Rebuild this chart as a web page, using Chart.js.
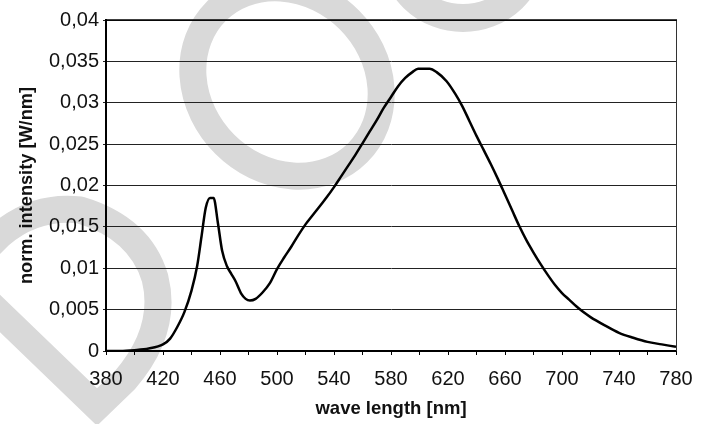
<!DOCTYPE html>
<html lang="en">
  <head>
    <meta charset="utf-8" />
    <title>Spectrum</title>
    <style>
      html, body { margin: 0; padding: 0; background: #fff; }
      #wrap { width: 712px; height: 424px; }
    </style>
  </head>
  <body>
    <div id="wrap">
      <canvas id="canvas" width="712" height="424"></canvas>
    </div>

    <script src="https://cdn.jsdelivr.net/npm/chart.js"></script>

    <script>
      // wavelength [nm] and normalised intensity [W/nm]
      const wavelengths = [
        380, 390, 400, 410, 420, 425, 430, 435, 440, 444, 447, 450, 453, 455.5,
        458.5, 461.5, 465, 468, 471, 475, 478, 481, 485, 490, 495, 500, 505, 510,
        515, 520, 525, 530, 535, 540, 545, 550, 555, 560, 565, 570, 575, 580, 585,
        590, 595, 599, 607, 612, 619, 625, 630, 635, 640, 645, 650, 655, 660, 665,
        670, 675, 680, 685, 690, 695, 700, 705, 710, 715, 720, 730, 740, 750, 760,
        770, 780,
      ];
      const intensity = [
        0, 0, 0.0001, 0.0003, 0.0008, 0.0015, 0.0029, 0.0047, 0.0073, 0.0103,
        0.0138, 0.0173, 0.0185, 0.0185, 0.0155, 0.0121, 0.0102, 0.0093, 0.0084,
        0.0069, 0.0063, 0.0061, 0.0063, 0.0071, 0.0082, 0.0099, 0.0113, 0.0126,
        0.014, 0.0153, 0.0164, 0.0175, 0.0186, 0.0198, 0.0211, 0.0224, 0.0237,
        0.0251, 0.0265, 0.0279, 0.0294, 0.0307, 0.032, 0.033, 0.0337, 0.0341,
        0.0341, 0.0337, 0.0326, 0.0311, 0.0296, 0.0278, 0.026, 0.0243, 0.0226,
        0.0208, 0.0189, 0.017, 0.0151, 0.0134, 0.0119, 0.0105, 0.0092, 0.008,
        0.007, 0.0062, 0.0054, 0.0047, 0.0041, 0.0031, 0.0022, 0.0016, 0.0011,
        0.0008, 0.0005,
      ];
      const xTicks = [380, 420, 460, 500, 540, 580, 620, 660, 700, 740, 780];
      const yTicks = [0, 0.005, 0.01, 0.015, 0.02, 0.025, 0.03, 0.035, 0.04];

      const fontFamily = '"Liberation Sans", Arial, sans-serif';

      // light grey watermark letters behind the chart
      const watermark = {
        id: "watermark",
        beforeDraw(chart) {
          const c = chart.ctx;
          c.save();
          c.strokeStyle = "#d9d9d9";
          c.lineWidth = 27;
          c.lineJoin = "miter";
          // D
          c.beginPath();
          c.moveTo(-40, 275);
          c.lineTo(97, 407);
          c.lineTo(125, 380);
          c.quadraticCurveTo(168, 330, 155, 278);
          c.quadraticCurveTo(140, 228, 80, 210);
          c.quadraticCurveTo(35, 205, 0, 235);
          c.closePath();
          c.stroke();
          // O
          c.beginPath();
          c.ellipse(287, 82, 100, 88, Math.PI / 4, 0, Math.PI * 2);
          c.stroke();
          // third letter, only its lower edge shows
          c.lineWidth = 28;
          c.beginPath();
          c.ellipse(463, -50, 70, 68, 0, 0, Math.PI * 2);
          c.stroke();
          c.restore();
        },
        afterDraw(chart) {
          const { left, right, top, bottom } = chart.chartArea;
          const c = chart.ctx;
          c.save();
          c.strokeStyle = "#333";
          c.lineWidth = 1;
          c.beginPath();
          c.moveTo(right + 0.5, top);
          c.lineTo(right + 0.5, bottom);
          c.stroke();
          c.strokeStyle = "#000";
          c.lineWidth = 1.5;
          c.beginPath();
          c.moveTo(left, top);
          c.lineTo(right + 1, top);
          c.stroke();
          c.restore();
        },
      };

      new Chart(document.getElementById("canvas"), {
        type: "line",
        data: {
          datasets: [
            {
              data: wavelengths.map((w, i) => ({ x: w, y: intensity[i] })),
              borderColor: "#000",
              borderWidth: 2.5,
              pointRadius: 0,
              cubicInterpolationMode: "monotone",
              fill: false,
            },
          ],
        },
        options: {
          responsive: false,
          animation: false,
          layout: { padding: { top: 20, right: 36, left: 0, bottom: 0 } },
          plugins: { legend: { display: false }, tooltip: { enabled: false } },
          scales: {
            x: {
              type: "linear",
              min: 380,
              max: 780,
              afterFit(scale) {
                scale.height = 73;
              },
              ticks: {
                stepSize: 20,
                autoSkip: false,
                maxRotation: 0,
                padding: 12,
                color: "#111",
                font: { family: fontFamily, size: 20 },
                callback: (v) => (xTicks.includes(v) ? String(v) : ""),
              },
              grid: {
                drawOnChartArea: false,
                drawTicks: true,
                tickLength: 4,
                color: "#000",
                lineWidth: 1,
              },
              border: { display: true, color: "#000", width: 2 },
              title: {
                display: true,
                text: "wave length [nm]",
                color: "#111",
                font: { family: fontFamily, size: 18.5, weight: "bold" },
                padding: { top: 0, bottom: 4 },
              },
            },
            y: {
              min: 0,
              max: 0.04,
              afterFit(scale) {
                scale.width = 106;
              },
              afterBuildTicks(scale) {
                scale.ticks = yTicks.map((v) => ({ value: v }));
              },
              ticks: {
                padding: 4,
                color: "#111",
                font: { family: fontFamily, size: 20 },
                callback: (v) => String(Math.round(v * 1000) / 1000).replace(".", ","),
              },
              grid: {
                color: "#222",
                lineWidth: 1,
                tickLength: 3,
              },
              border: { display: true, color: "#000", width: 2 },
              title: {
                display: true,
                text: "norm. intensity [W/nm]",
                color: "#111",
                font: { family: fontFamily, size: 18.2, weight: "bold" },
                padding: { top: 16, bottom: 0 },
              },
            },
          },
        },
        plugins: [watermark],
      });
    </script>
  </body>
</html>
